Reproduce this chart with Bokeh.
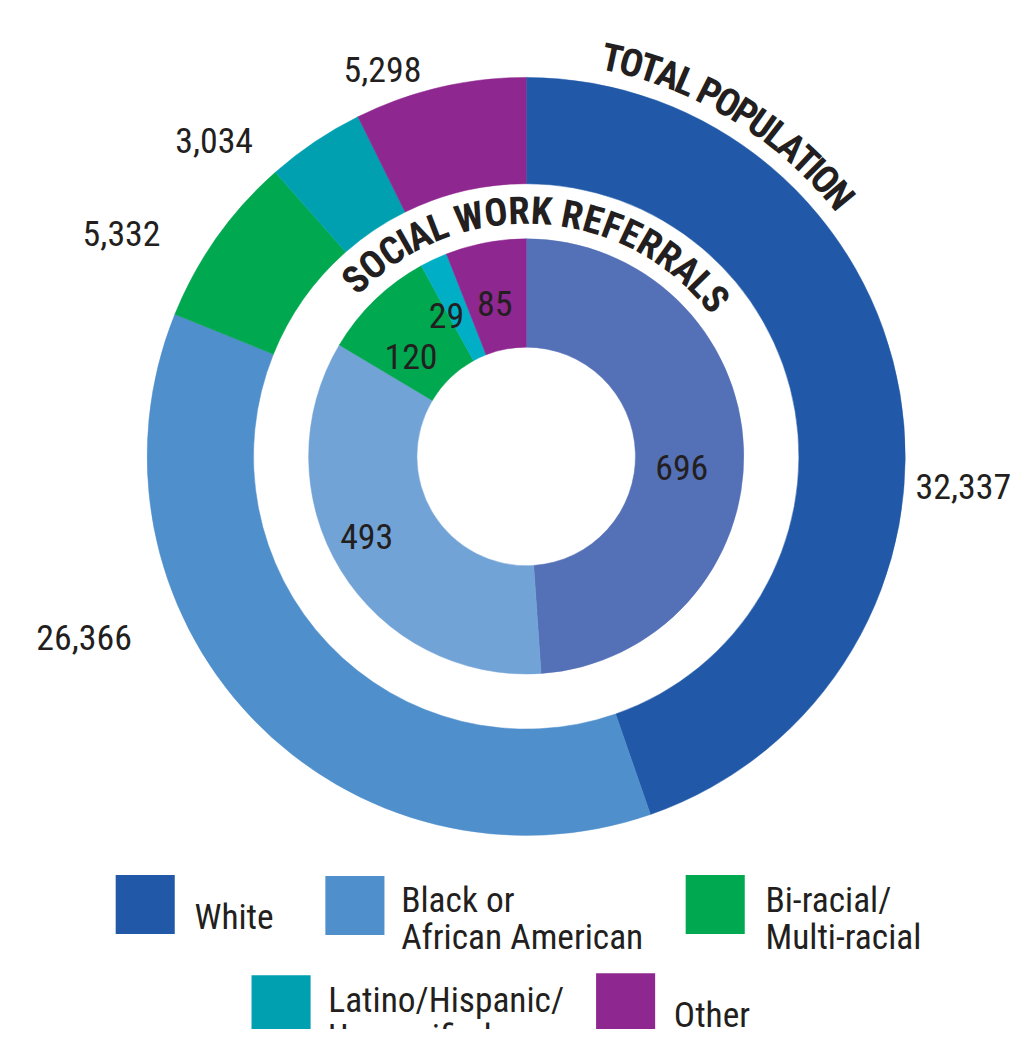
import numpy as np
from bokeh.plotting import figure
from bokeh.models import Range1d, ColumnDataSource
from bokeh.core.properties import value
from bokeh.embed import file_html
from bokeh.resources import INLINE

# ---------------- data ----------------
categories = ["White", "Black or African American", "Bi-racial/Multi-racial",
              "Latino/Hispanic/Unspecified", "Other"]
legend_lines = [["White"], ["Black or", "African American"], ["Bi-racial/", "Multi-racial"],
                ["Latino/Hispanic/", "Unspecified"], ["Other"]]
total_population = [32337, 26366, 5332, 3034, 5298]
social_work_referrals = [696, 493, 120, 29, 85]
outer_title = "TOTAL POPULATION"
inner_title = "SOCIAL WORK REFERRALS"

# ---------------- style / layout ----------------
outer_colors = ["#2159A8", "#4F8FCC", "#00A84F", "#00A0B1", "#8E278F"]
inner_colors = ["#5470B6", "#72A3D6", "#00A84F", "#00AFC6", "#8E278F"]
TEXT = "#231F20"
FONT = "'Roboto Condensed', 'DejaVu Sans Condensed', 'Liberation Sans', sans-serif"

W, H = 1013, 1029           # canvas px
VW, VH = 1029, 1045         # design units (reference picture)
S = W / VW
CX, CY = 534, -463          # centre (design units, y negated)
R_OUT_OUT, R_OUT_IN = 385, 277
R_IN_OUT, R_IN_IN = 221, 111

NUM_SIZE = f"{36.5 * S:.1f}px"
LEG_SIZE = f"{36 * S:.1f}px"
TITLE_SIZE = f"{39 * S:.1f}px"

# value label anchors (design x, baseline y)
outer_label_pos = [(978, 494), (85, 647), (123, 237), (217, 142), (388, 70)]
inner_label_pos = [(692, 474), (372, 544), (417, 362), (453, 320), (502, 308)]

# legend layout: square top-left, text x, first baseline
legend_layout = [
    (117, 888, 197, 931),
    (330, 889, 407, 913),
    (696, 888, 777, 913),
    (255, 990, 333, 1015),
    (605, 988, 684, 1030),
]
SQ = 60
LINE_H = 38

p = figure(width=W, height=H, output_backend="svg", toolbar_location=None,
           x_range=Range1d(0, VW), y_range=Range1d(-VH, 0),
           min_border=0, outline_line_color=None, background_fill_color="white",
           border_fill_color="white")
p.axis.visible = False
p.grid.visible = False


def ring(vals, colors, r_in, r_out):
    v = np.array(vals, dtype=float)
    cum = np.concatenate([[0.0], np.cumsum(v / v.sum())])
    start = np.pi / 2 - 2 * np.pi * cum[:-1]
    end = np.pi / 2 - 2 * np.pi * cum[1:]
    src = ColumnDataSource(dict(start=start, end=end, color=colors))
    p.annular_wedge(x=CX, y=CY, inner_radius=r_in, outer_radius=r_out,
                    start_angle="start", end_angle="end", direction="clock",
                    fill_color="color", line_color="color", line_width=0.5, source=src)


ring(total_population, outer_colors, R_OUT_IN, R_OUT_OUT)
ring(social_work_referrals, inner_colors, R_IN_IN, R_IN_OUT)


def labels(vals, pos):
    src = ColumnDataSource(dict(
        x=[a for a, b in pos], y=[-b for a, b in pos],
        t=[f"{v:,}" for v in vals]))
    p.text(x="x", y="y", text="t", source=src, text_align="center",
           text_baseline="alphabetic", text_font=value(FONT),
           text_font_size=value(NUM_SIZE), text_color=TEXT)


labels(total_population, outer_label_pos)
labels(social_work_referrals, inner_label_pos)

# ---------------- curved titles ----------------
WID = {"I": 0.228, " ": 0.228, "W": 0.774, "O": 0.64, "T": 0.5, "L": 0.5, "F": 0.5,
       "P": 0.547, "S": 0.547, "E": 0.547}


def curved(text, r, a0, a1, size):
    w = np.array([WID.get(c, 0.59) for c in text])
    c = np.cumsum(w) - w / 2
    c = (c - c[0]) / (c[-1] - c[0])
    th = np.radians(a0 + (a1 - a0) * c)
    src = ColumnDataSource(dict(x=CX + r * np.sin(th), y=CY + r * np.cos(th),
                                a=-th, t=list(text)))
    p.text(x="x", y="y", text="t", angle="a", source=src, text_align="center",
           text_baseline="middle", text_font=value(FONT), text_font_style="bold",
           text_font_size=value(size), text_color=TEXT)


curved(outer_title, 414, 12.2, 50.2, TITLE_SIZE)
curved(inner_title, 250, -43.9, 50.2, TITLE_SIZE)

# ---------------- legend ----------------
for (sx, sy, tx, ty), col, lines in zip(legend_layout, outer_colors, legend_lines):
    p.quad(left=sx, right=sx + SQ, top=-sy, bottom=-(sy + SQ),
           fill_color=col, line_color=None)
    p.text(x=[tx] * len(lines), y=[-(ty + i * LINE_H) for i in range(len(lines))],
           text=lines, text_align="left", text_baseline="alphabetic",
           text_font=value(FONT), text_font_size=value(LEG_SIZE), text_color=TEXT)

open("out.html", "w").write(file_html(p, INLINE))
